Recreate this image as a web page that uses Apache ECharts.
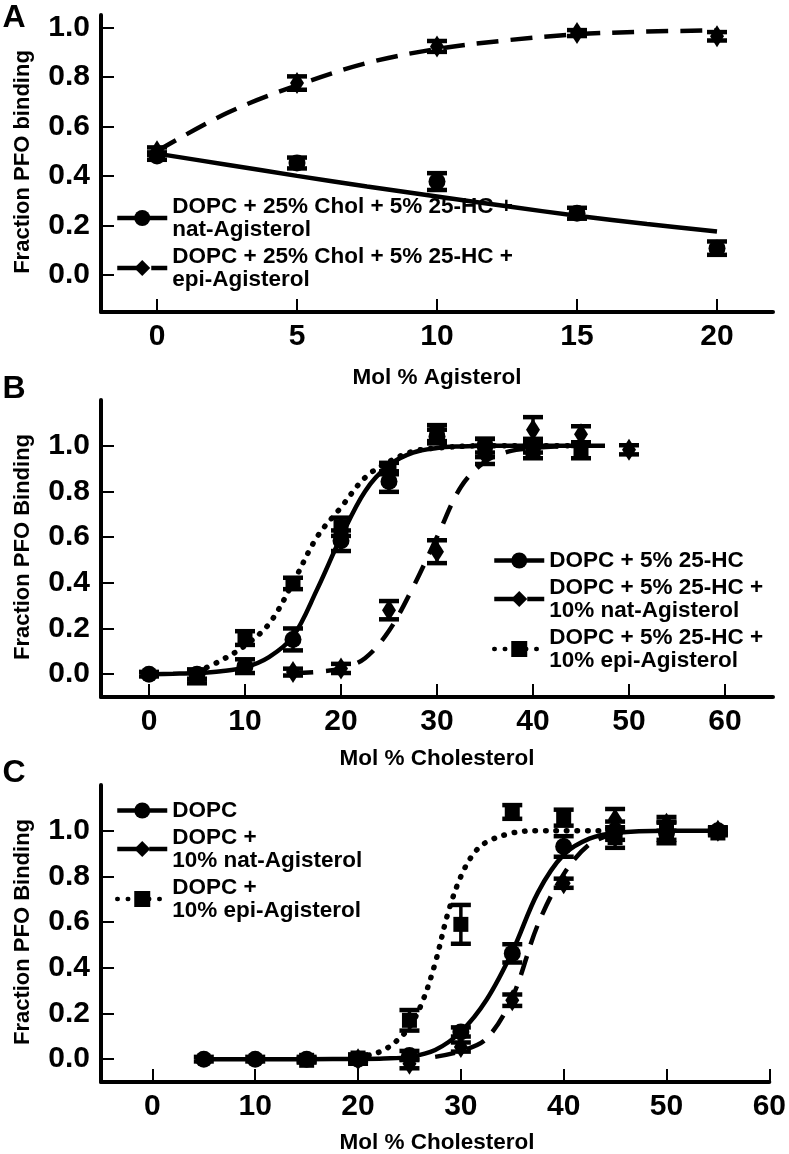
<!DOCTYPE html>
<html>
<head>
<meta charset="utf-8">
<script src="https://cdn.jsdelivr.net/npm/echarts@6/dist/echarts.min.js"></script>
<style>
html,body{margin:0;padding:0;background:#fff;}
#chart{width:789px;height:1154px;}
</style>
</head>
<body>
<div id="chart"></div>
<script>
// ---------- Panel A data ----------
const A_x = [0, 5, 10, 15, 20];
const A_nat = [0.48, 0.452, 0.377, 0.249, 0.108];
const A_nat_err = [0.015, 0.022, 0.034, 0.022, 0.027];
const A_epi = [0.50, 0.775, 0.923, 0.977, 0.964];
const A_epi_err = [0.015, 0.027, 0.022, 0.012, 0.017];
const A_fit_x = [0, 2.5, 5, 7.5, 10, 12.5, 15, 17.5, 20];
const A_nat_fit = [0.49, 0.445, 0.40, 0.357, 0.317, 0.277, 0.239, 0.206, 0.175];
const A_epi_fit = [0.50, 0.654, 0.766, 0.856, 0.913, 0.948, 0.972, 0.983, 0.988];
const A_xticks = [0, 5, 10, 15, 20];

// ---------- Panel B data ----------
const B_c_x = [0, 5, 10, 15, 20, 25, 30, 35, 40];
const B_c = [0.0, 0.0, 0.035, 0.152, 0.584, 0.843, 1.04, 1.0, 1.0];
const B_c_err = [0.01, 0.02, 0.03, 0.048, 0.045, 0.045, 0.03, 0.03, 0.03];
const B_d_x = [15, 20, 25, 30, 35, 40, 45, 50];
const B_d = [0.009, 0.025, 0.28, 0.536, 0.96, 1.07, 1.05, 0.982];
const B_d_err = [0.015, 0.02, 0.04, 0.05, 0.04, 0.055, 0.035, 0.02];
const B_s_x = [5, 10, 15, 20, 25, 30, 35, 40, 45];
const B_s = [-0.01, 0.158, 0.397, 0.645, 0.9, 1.055, 0.99, 0.98, 0.975];
const B_s_err = [0.03, 0.03, 0.025, 0.04, 0.025, 0.035, 0.04, 0.035, 0.03];
const B_c_fit_x = [0, 2.5, 5, 7.5, 10, 12.5, 15, 17.5, 20, 22.5, 25, 27.5, 30, 32.5, 35, 40, 47.5];
const B_c_fit = [0, 0.002, 0.005, 0.013, 0.03, 0.075, 0.165, 0.37, 0.60, 0.80, 0.915, 0.97, 0.99, 0.997, 1.0, 1.0, 1.0];
const B_s_fit_x = [5, 7.5, 10, 12.5, 15, 17.5, 20, 22.5, 25, 27.5, 30, 35, 40, 45];
const B_s_fit = [0.01, 0.06, 0.125, 0.22, 0.40, 0.60, 0.73, 0.86, 0.93, 0.975, 0.99, 1.0, 1.0, 1.0];
const B_d_fit_x = [15, 17.5, 20, 22.5, 25, 27.5, 30, 32.5, 35, 37.5, 40, 42.5, 45];
const B_d_fit = [0.005, 0.01, 0.025, 0.07, 0.19, 0.38, 0.6, 0.82, 0.93, 0.975, 0.99, 0.997, 1.0];
const B_xticks = [0, 10, 20, 30, 40, 50, 60];

// ---------- Panel C data ----------
const C_c_x = [5, 10, 15, 20, 25, 30, 35, 40, 45, 50, 55];
const C_c = [0, 0, 0, 0, 0.016, 0.119, 0.463, 0.931, 1.0, 0.99, 1.0];
const C_c_err = [0.01, 0.01, 0.01, 0.02, 0.02, 0.02, 0.04, 0.045, 0.04, 0.045, 0.015];
const C_d_x = [20, 25, 30, 35, 40, 45, 50, 55];
const C_d = [0.0, -0.02, 0.053, 0.258, 0.77, 1.05, 1.03, 1.0];
const C_d_err = [0.01, 0.02, 0.02, 0.025, 0.02, 0.045, 0.03, 0.01];
const C_s_x = [15, 20, 25, 30, 35, 40, 45, 50, 55];
const C_s = [-0.005, 0.005, 0.17, 0.59, 1.082, 1.057, 0.97, 1.0, 0.99];
const C_s_err = [0.01, 0.015, 0.045, 0.085, 0.03, 0.035, 0.045, 0.04, 0.01];
const C_c_fit_x = [5, 10, 15, 20, 22.5, 25, 27.5, 30, 32.5, 35, 37.5, 40, 42.5, 45, 50, 55];
const C_c_fit = [0, 0, 0, 0.001, 0.003, 0.01, 0.04, 0.12, 0.26, 0.47, 0.73, 0.895, 0.965, 0.99, 1.0, 1.0];
const C_s_fit_x = [20, 21.25, 22.5, 23.75, 25, 26.25, 27.5, 28.75, 30, 31.25, 32.5, 35, 37.5, 40, 45];
const C_s_fit = [0.01, 0.02, 0.04, 0.08, 0.14, 0.25, 0.42, 0.64, 0.80, 0.9, 0.95, 0.99, 1.0, 1.0, 1.0];
const C_d_fit_x = [27.5, 30, 32.5, 35, 37.5, 40, 42.5, 45];
const C_d_fit = [0.01, 0.035, 0.09, 0.27, 0.59, 0.81, 0.94, 0.99];
const C_xticks = [0, 10, 20, 30, 40, 50, 60];

const Y_ticks = [0, 0.2, 0.4, 0.6, 0.8, 1.0];

// ---------- Names ----------
const A_names = ['DOPC + 25% Chol + 5% 25-HC +\nnat-Agisterol', 'DOPC + 25% Chol + 5% 25-HC +\nepi-Agisterol'];
const B_names = ['DOPC + 5% 25-HC', 'DOPC + 5% 25-HC +\n10% nat-Agisterol', 'DOPC + 5% 25-HC +\n10% epi-Agisterol'];
const C_names = ['DOPC', 'DOPC +\n10% nat-Agisterol', 'DOPC +\n10% epi-Agisterol'];

const FONT = '"Liberation Sans", Arial, Helvetica, sans-serif';
const NARROW = '"Liberation Sans Narrow", "Arial Narrow", "Liberation Sans", sans-serif';
const BLACK = '#000';

const chart = echarts.init(document.getElementById('chart'), null, {renderer: 'canvas'});

function zip(xs, ys) { return xs.map((x, i) => [x, ys[i]]); }

function xAxisOf(idx, min, max, ticks) {
  return {
    type: 'value', gridIndex: idx, min: min, max: max,
    splitLine: {show: false},
    axisLine: {show: true, onZero: false, lineStyle: {color: BLACK, width: 4}},
    axisTick: {show: true, inside: true, length: 13, customValues: ticks, lineStyle: {color: BLACK, width: 2}},
    axisLabel: {show: true, customValues: ticks, margin: 10, color: BLACK,
      fontFamily: NARROW, fontWeight: 'bold', fontSize: 30}
  };
}
function yAxisOf(idx, min, max) {
  return {
    type: 'value', gridIndex: idx, min: min, max: max,
    splitLine: {show: false},
    axisLine: {show: true, onZero: false, lineStyle: {color: BLACK, width: 4}},
    axisTick: {show: true, inside: true, length: 13, customValues: Y_ticks, lineStyle: {color: BLACK, width: 2}},
    axisLabel: {show: true, customValues: Y_ticks, margin: 11, color: BLACK,
      fontFamily: NARROW, fontWeight: 'bold', fontSize: 30,
      formatter: v => Number(v).toFixed(1)}
  };
}

function fitLine(name, xs, ys, idx, symbol, dash) {
  const ls = {color: BLACK, width: 4.5, type: dash || 'solid'};
  if (Array.isArray(dash) && dash[0] <= 1) { ls.cap = 'round'; ls.width = 5.5; }
  return {
    type: 'line', name: name, xAxisIndex: idx, yAxisIndex: idx,
    data: zip(xs, ys), smooth: 0.35, showSymbol: false, symbol: symbol, symbolSize: 15,
    itemStyle: {color: BLACK}, lineStyle: ls, z: 2, silent: true
  };
}
function points(name, xs, ys, idx, symbol, size) {
  return {
    type: 'scatter', name: name, xAxisIndex: idx, yAxisIndex: idx,
    data: zip(xs, ys), symbol: symbol, symbolSize: size,
    itemStyle: {color: BLACK, opacity: 1}, z: 4, silent: true
  };
}
function errBars(name, xs, ys, es, idx) {
  return {
    type: 'custom', name: name, xAxisIndex: idx, yAxisIndex: idx, z: 3, silent: true,
    data: xs.map((x, i) => [x, ys[i], es[i]]),
    encode: {x: 0, y: 1},
    renderItem: function (params, api) {
      const x = api.value(0), y = api.value(1), e = api.value(2);
      const p1 = api.coord([x, y + e]);
      const p2 = api.coord([x, y - e]);
      const w = 10;
      return {
        type: 'group',
        children: [
          {type: 'line', shape: {x1: p1[0], y1: p1[1], x2: p2[0], y2: p2[1]}, style: {stroke: BLACK, lineWidth: 3.5}},
          {type: 'line', shape: {x1: p1[0] - w, y1: p1[1], x2: p1[0] + w, y2: p1[1]}, style: {stroke: BLACK, lineWidth: 4.5}},
          {type: 'line', shape: {x1: p2[0] - w, y1: p2[1], x2: p2[0] + w, y2: p2[1]}, style: {stroke: BLACK, lineWidth: 4.5}}
        ]
      };
    }
  };
}

const DIAM = [14, 22];
const CIRC = 17;
const SQ = 15;
const series = [
  // Panel A
  fitLine(A_names[0], A_fit_x, A_nat_fit, 0, 'circle', 'solid'),
  fitLine(A_names[1], A_fit_x, A_epi_fit, 0, 'diamond', [22, 12]),
  errBars(A_names[0], A_x, A_nat, A_nat_err, 0),
  errBars(A_names[1], A_x, A_epi, A_epi_err, 0),
  points(A_names[0], A_x, A_nat, 0, 'circle', CIRC),
  points(A_names[1], A_x, A_epi, 0, 'diamond', DIAM),
  // Panel B
  fitLine(B_names[0], B_c_fit_x, B_c_fit, 1, 'circle', 'solid'),
  fitLine(B_names[1], B_d_fit_x, B_d_fit, 1, 'diamond', [20, 13]),
  fitLine(B_names[2], B_s_fit_x, B_s_fit, 1, 'rect', [0.5, 10]),
  errBars(B_names[0], B_c_x, B_c, B_c_err, 1),
  errBars(B_names[1], B_d_x, B_d, B_d_err, 1),
  errBars(B_names[2], B_s_x, B_s, B_s_err, 1),
  points(B_names[0], B_c_x, B_c, 1, 'circle', CIRC),
  points(B_names[1], B_d_x, B_d, 1, 'diamond', DIAM),
  points(B_names[2], B_s_x, B_s, 1, 'rect', SQ),
  // Panel C
  fitLine(C_names[0], C_c_fit_x, C_c_fit, 2, 'circle', 'solid'),
  fitLine(C_names[1], C_d_fit_x, C_d_fit, 2, 'diamond', [20, 12]),
  fitLine(C_names[2], C_s_fit_x, C_s_fit, 2, 'rect', [0.5, 10]),
  errBars(C_names[0], C_c_x, C_c, C_c_err, 2),
  errBars(C_names[1], C_d_x, C_d, C_d_err, 2),
  errBars(C_names[2], C_s_x, C_s, C_s_err, 2),
  points(C_names[0], C_c_x, C_c, 2, 'circle', CIRC),
  points(C_names[1], C_d_x, C_d, 2, 'diamond', DIAM),
  points(C_names[2], C_s_x, C_s, 2, 'rect', SQ)
];

function legendOf(names, left, top) {
  return {
    data: names, left: left, top: top, orient: 'vertical', padding: 0,
    itemWidth: 50, itemHeight: 20, itemGap: 4, selectedMode: false,
    lineStyle: {width: 4.5},
    textStyle: {color: BLACK, fontFamily: FONT, fontWeight: 'bold', fontSize: 22.5, lineHeight: 23}
  };
}

function txt(text, x, y, size, rot) {
  return {
    type: 'text', x: x, y: y, rotation: rot || 0, silent: true,
    style: {text: text, fill: BLACK, font: 'bold ' + size + 'px ' + FONT, align: 'center', verticalAlign: 'middle'}
  };
}

const option = {
  backgroundColor: '#fff',
  animation: false,
  grid: [
    {left: 101, right: 16, top: 15, height: 297},
    {left: 101, right: 16, top: 400, height: 297},
    {left: 101, right: 16, top: 785, height: 297}
  ],
  xAxis: [
    xAxisOf(0, -2, 22, A_xticks),
    xAxisOf(1, -5, 65, B_xticks),
    xAxisOf(2, -5, 60, C_xticks)
  ],
  yAxis: [
    yAxisOf(0, -0.15, 1.05),
    yAxisOf(1, -0.1, 1.2),
    yAxisOf(2, -0.1, 1.2)
  ],
  legend: [
    legendOf(A_names, 115, 195),
    legendOf(B_names, 492, 549),
    legendOf(C_names, 115, 799)
  ],
  graphic: [
    txt('A', 14, 18, 32),
    txt('B', 14, 389, 32),
    txt('C', 14, 773, 32),
    txt('Fraction PFO binding', 23, 162, 22, Math.PI / 2),
    txt('Fraction PFO Binding', 23, 547, 22, Math.PI / 2),
    txt('Fraction PFO Binding', 23, 932, 22, Math.PI / 2),
    txt('Mol % Agisterol', 437, 378, 22.5),
    txt('Mol % Cholesterol', 437, 759, 22.5),
    txt('Mol % Cholesterol', 437, 1143, 22.5)
  ],
  series: series
};
chart.setOption(option);
</script>
</body>
</html>
